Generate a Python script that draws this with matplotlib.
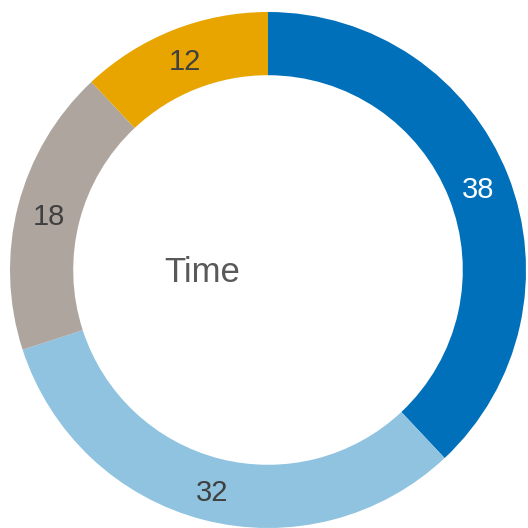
import matplotlib.pyplot as plt

# slice data, clockwise from 12 o'clock
labels = ["A", "B", "C", "D"]
values = [38, 32, 18, 12]
colors = ["#0070ba", "#8fc3e0", "#ada59e", "#e8a500"]
label_colors = ["white", "#404040", "#404040", "#404040"]
center_text = "Time"

plt.rcParams["font.family"] = ["Liberation Sans", "DejaVu Sans"]

fig = plt.figure(figsize=(5.28, 5.28), dpi=100)
ax = fig.add_axes([0, 0, 1, 1])

wedges, texts, autotexts = ax.pie(
    values,
    colors=colors,
    startangle=90,
    counterclock=False,
    radius=1.0,
    wedgeprops=dict(width=0.245, linewidth=0),
    autopct=lambda p: f"{p * sum(values) / 100:.0f}",
    pctdistance=0.878,
    textprops=dict(fontsize=21),
)
for t, c in zip(autotexts, label_colors):
    t.set_color(c)
    x, y = t.get_position()
    t.set_position((x, y - 0.012))

ax.text(-0.256, -0.008, center_text, fontsize=25, color="#595959",
        ha="center", va="center")

ax.set_aspect("equal")
ax.set_xlim(-268 / 258, 260 / 258)
ax.set_ylim(-258 / 258, 270 / 258)
ax.axis("off")

fig.savefig("out.png", dpi=100)
